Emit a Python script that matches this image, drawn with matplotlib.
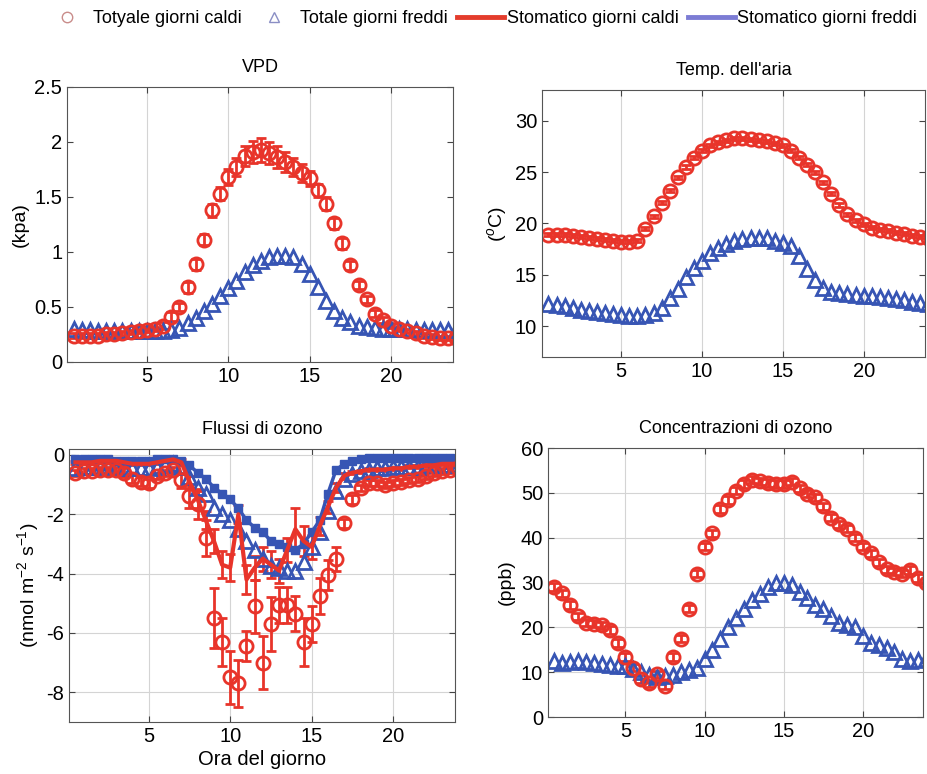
import numpy as np
import matplotlib
matplotlib.use("Agg")
import matplotlib.pyplot as plt
from matplotlib.lines import Line2D

plt.rcParams['font.family'] = ['Liberation Sans', 'DejaVu Sans']
plt.rcParams['mathtext.fontset'] = 'custom'
plt.rcParams['mathtext.rm'] = 'Liberation Sans'
plt.rcParams['mathtext.it'] = 'Liberation Sans:italic'
plt.rcParams['axes.unicode_minus'] = False

# ore del giorno (passo di mezz'ora)
ore = np.arange(0.5, 24.01, 0.5)

# VPD (kpa)
vpd_caldi = [0.24, 0.24, 0.24, 0.24, 0.25, 0.25, 0.26, 0.27,
             0.28, 0.29, 0.30, 0.33, 0.41, 0.50, 0.68, 0.89,
             1.11, 1.38, 1.53, 1.68, 1.77, 1.87, 1.91, 1.93,
             1.90, 1.86, 1.82, 1.77, 1.72, 1.67, 1.56, 1.44,
             1.26, 1.08, 0.88, 0.70, 0.57, 0.44, 0.38, 0.33,
             0.30, 0.28, 0.26, 0.24, 0.23, 0.22, 0.22, 0.22]
vpd_caldi_err = [0.02, 0.02, 0.02, 0.02, 0.02, 0.02, 0.02, 0.02,
                 0.02, 0.02, 0.02, 0.03, 0.04, 0.04, 0.05, 0.05,
                 0.05, 0.06, 0.06, 0.07, 0.08, 0.09, 0.10, 0.11,
                 0.10, 0.10, 0.09, 0.08, 0.08, 0.07, 0.06, 0.06,
                 0.05, 0.05, 0.04, 0.04, 0.03, 0.03, 0.03, 0.02,
                 0.02, 0.02, 0.02, 0.02, 0.02, 0.02, 0.02, 0.02]
vpd_freddi = [0.30, 0.29, 0.29, 0.28, 0.28, 0.28, 0.28, 0.28,
              0.28, 0.28, 0.28, 0.28, 0.29, 0.31, 0.35, 0.40,
              0.46, 0.53, 0.60, 0.67, 0.74, 0.82, 0.88, 0.92,
              0.95, 0.96, 0.96, 0.95, 0.89, 0.80, 0.68, 0.55,
              0.46, 0.40, 0.36, 0.33, 0.32, 0.31, 0.30, 0.30,
              0.30, 0.30, 0.29, 0.29, 0.29, 0.29, 0.29, 0.29]

# temperatura dell'aria (C)
temp_caldi = [18.9, 18.9, 18.9, 18.8, 18.7, 18.6, 18.5, 18.4,
              18.3, 18.2, 18.2, 18.3, 19.5, 20.7, 22.0, 23.2,
              24.5, 25.5, 26.4, 27.1, 27.6, 27.9, 28.1, 28.3,
              28.3, 28.2, 28.1, 28.0, 27.8, 27.6, 27.1, 26.4,
              25.7, 25.0, 24.0, 22.9, 21.8, 20.9, 20.3, 19.9,
              19.6, 19.4, 19.3, 19.1, 19.0, 18.8, 18.7, 18.6]
temp_freddi = [12.2, 12.1, 12.0, 11.8, 11.6, 11.5, 11.4, 11.3,
               11.2, 11.1, 11.0, 11.0, 11.1, 11.3, 11.8, 12.7,
               13.6, 14.8, 15.7, 16.3, 17.1, 17.6, 18.0, 18.3,
               18.5, 18.6, 18.6, 18.6, 18.3, 18.1, 17.8, 16.8,
               15.6, 14.5, 13.7, 13.3, 13.2, 13.1, 13.0, 12.9,
               12.9, 12.8, 12.7, 12.6, 12.5, 12.4, 12.3, 12.2]

# flussi di ozono (nmol m-2 s-1)
flux_tot_caldi = [-0.60, -0.55, -0.55, -0.50, -0.50, -0.50, -0.60, -0.80,
                  -0.90, -0.95, -0.70, -0.60, -0.50, -0.85, -1.40, -1.65,
                  -2.80, -5.50, -6.30, -7.50, -7.70, -6.45, -5.10, -7.00,
                  -5.70, -5.05, -5.05, -5.35, -6.30, -5.70, -4.75, -4.05,
                  -3.50, -2.30, -1.50, -1.10, -0.95, -0.95, -1.00, -0.95,
                  -0.90, -0.85, -0.80, -0.70, -0.60, -0.55, -0.50, -0.45]
flux_tot_caldi_err = [0.10, 0.10, 0.10, 0.10, 0.10, 0.10, 0.15, 0.15,
                      0.15, 0.15, 0.10, 0.10, 0.10, 0.25, 0.40, 0.50,
                      0.60, 1.00, 0.80, 0.90, 0.80, 0.50, 0.90, 0.90,
                      0.90, 0.60, 0.60, 0.60, 0.80, 0.60, 0.60, 0.50,
                      0.40, 0.15, 0.15, 0.10, 0.10, 0.10, 0.10, 0.10,
                      0.10, 0.10, 0.10, 0.10, 0.10, 0.10, 0.10, 0.10]
flux_sto_caldi = [-0.25, -0.25, -0.25, -0.20, -0.20, -0.20, -0.25, -0.30,
                  -0.30, -0.30, -0.25, -0.20, -0.15, -0.25, -0.90, -1.50,
                  -2.20, -2.90, -3.70, -3.80, -2.00, -4.20, -3.80, -3.50,
                  -3.70, -3.90, -3.20, -2.50, -2.90, -3.10, -2.40, -1.75,
                  -1.10, -0.70, -0.60, -0.55, -0.50, -0.50, -0.50, -0.45,
                  -0.45, -0.40, -0.40, -0.35, -0.35, -0.30, -0.30, -0.30]
flux_sto_caldi_err = [0.05, 0.05, 0.05, 0.05, 0.05, 0.05, 0.05, 0.05,
                      0.05, 0.05, 0.05, 0.05, 0.05, 0.10, 0.20, 0.30,
                      0.30, 0.40, 0.45, 0.45, 0.30, 0.50, 0.40, 0.40,
                      0.45, 0.40, 0.40, 0.70, 0.50, 0.40, 0.30, 0.20,
                      0.15, 0.10, 0.05, 0.05, 0.05, 0.05, 0.05, 0.05,
                      0.05, 0.05, 0.05, 0.05, 0.05, 0.05, 0.05, 0.05]
flux_tot_freddi = [-0.45, -0.40, -0.40, -0.40, -0.40, -0.45, -0.45, -0.45,
                   -0.45, -0.45, -0.40, -0.35, -0.30, -0.40, -0.75, -1.10,
                   -1.30, -1.80, -2.00, -2.20, -2.50, -2.90, -3.20, -3.50,
                   -3.75, -3.80, -3.90, -3.90, -3.60, -3.10, -2.60, -1.90,
                   -1.20, -0.80, -0.65, -0.55, -0.50, -0.45, -0.45, -0.40,
                   -0.40, -0.40, -0.40, -0.35, -0.35, -0.35, -0.35, -0.35]
flux_sto_freddi = [-0.15, -0.15, -0.15, -0.15, -0.15, -0.20, -0.20, -0.20,
                   -0.20, -0.20, -0.15, -0.15, -0.15, -0.20, -0.35, -0.60,
                   -0.80, -1.10, -1.30, -1.50, -1.80, -2.20, -2.45, -2.60,
                   -2.90, -3.00, -3.10, -3.20, -3.00, -2.60, -2.20, -1.30,
                   -0.50, -0.30, -0.20, -0.15, -0.10, -0.10, -0.10, -0.10,
                   -0.10, -0.10, -0.10, -0.10, -0.10, -0.10, -0.10, -0.15]

# concentrazioni di ozono (ppb)
conc_caldi = [29.0, 27.6, 25.0, 22.5, 21.0, 20.8, 20.5, 19.4,
              16.5, 13.4, 11.0, 8.5, 7.5, 9.5, 7.0, 13.4,
              17.5, 24.2, 32.0, 38.0, 41.0, 46.4, 48.4, 50.5,
              52.0, 52.9, 52.6, 52.2, 52.0, 52.0, 52.5, 51.0,
              49.8, 49.0, 47.0, 44.5, 43.0, 42.0, 40.0, 38.0,
              36.5, 34.5, 33.0, 32.4, 32.0, 32.8, 31.0, 30.0]
conc_freddi = [12.5, 12.0, 12.3, 12.6, 12.2, 12.0, 11.8, 11.5,
               11.4, 11.3, 10.8, 10.0, 9.3, 9.0, 9.2, 9.4,
               10.0, 10.5, 11.0, 13.0, 15.0, 17.5, 20.0, 22.0,
               24.0, 26.0, 27.5, 29.0, 30.0, 30.0, 29.5, 28.0,
               26.5, 25.0, 24.0, 22.5, 21.0, 20.5, 20.0, 18.0,
               16.5, 16.0, 15.5, 14.5, 13.0, 12.5, 12.8, 13.0]

ROSSO = '#e8342a'
BLU = '#3755b4'

fig = plt.figure(figsize=(9.27, 7.74), dpi=100)

posizioni = [[0.0723, 0.5323, 0.4164, 0.3553],
             [0.5847, 0.5388, 0.4132, 0.3450],
             [0.0744, 0.0672, 0.4164, 0.3527],
             [0.5911, 0.0736, 0.4045, 0.3475]]
axs = [fig.add_axes(p) for p in posizioni]


def cerchi(ax, y, err=None, ms=9.5):
    ax.errorbar(ore, y, yerr=err, fmt='o', ms=ms, mfc='none', mec=ROSSO,
                mew=2.0, ecolor=ROSSO, elinewidth=2.0, capsize=3.5, capthick=2.0)


def triangoli(ax, y, ms=9.5):
    ax.plot(ore, y, '^', ms=ms, mfc='none', mec=BLU, mew=2.0)


def stile(ax, titolo, ylab, griglia_y):
    ax.set_xlim(0.1, 23.8)
    ax.set_xticks([5, 10, 15, 20])
    ax.tick_params(direction='in', top=True, right=True, labelsize=14.5,
                   length=4, color='#444444')
    ax.set_title(titolo, fontsize=13, pad=11)
    ax.set_ylabel(ylab, fontsize=14)
    ax.grid(True, axis='x', color='#d4d4d4', lw=0.8)
    if griglia_y:
        ax.grid(True, axis='y', color='#d4d4d4', lw=0.8)
    ax.set_axisbelow(True)
    for s in ax.spines.values():
        s.set_color('#555555')


# VPD
ax = axs[0]
cerchi(ax, vpd_caldi, vpd_caldi_err)
triangoli(ax, vpd_freddi)
ax.set_ylim(0, 2.5)
ax.set_yticks([0, 0.5, 1, 1.5, 2, 2.5])
ax.set_yticklabels(['0', '0.5', '1', '1.5', '2', '2.5'])
stile(ax, 'VPD', '(kpa)', False)

# temperatura
ax = axs[1]
cerchi(ax, temp_caldi, 0.15)
triangoli(ax, temp_freddi)
ax.set_ylim(7, 33)
ax.set_yticks([10, 15, 20, 25, 30])
stile(ax, "Temp. dell'aria", '($^{o}$C)', False)

# flussi
ax = axs[2]
cerchi(ax, flux_tot_caldi, flux_tot_caldi_err)
ax.errorbar(ore, flux_sto_caldi, yerr=flux_sto_caldi_err, color=ROSSO, lw=3,
            elinewidth=2.0, capsize=3.5, capthick=2.0)
triangoli(ax, flux_tot_freddi)
ax.plot(ore, flux_sto_freddi, '-s', color=BLU, lw=2.5, ms=5.5)
ax.set_ylim(-9, 0.2)
ax.set_yticks([-8, -6, -4, -2, 0])
stile(ax, 'Flussi di ozono', '(nmol m$^{-2}$ s$^{-1}$)', True)
ax.set_xlabel('Ora del giorno', fontsize=14.5, labelpad=3)

# concentrazioni
ax = axs[3]
cerchi(ax, conc_caldi, 0.8)
triangoli(ax, conc_freddi)
ax.set_ylim(0, 60)
ax.set_yticks([0, 10, 20, 30, 40, 50, 60])
stile(ax, 'Concentrazioni di ozono', '(ppb)', True)

# legenda comune
handles = [Line2D([], [], ls='none', marker='o', ms=7.5, mfc='none', mec='#c98c8a', mew=1),
           Line2D([], [], ls='none', marker='^', ms=7.5, mfc='none', mec='#8a8ec4', mew=1),
           Line2D([], [], color='#e43c2c', lw=3.5),
           Line2D([], [], color='#7c7cd4', lw=3.5)]
labels = ['Totyale giorni caldi', 'Totale giorni freddi',
          'Stomatico giorni caldi', 'Stomatico giorni freddi']
fig.legend(handles, labels, loc='upper center', bbox_to_anchor=(0.518, 1.008),
           ncol=4, frameon=False, fontsize=13, handlelength=2.6,
           handletextpad=0.15, columnspacing=0.5)

fig.savefig('out.png', dpi=100)
